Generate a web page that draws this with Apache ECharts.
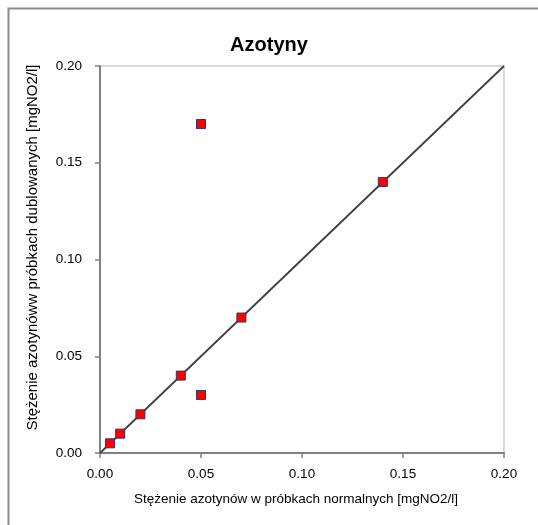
<!DOCTYPE html>
<html>
<head>
<meta charset="utf-8">
<script src="https://cdn.jsdelivr.net/npm/echarts@6/dist/echarts.min.js"></script>
<style>html,body{margin:0;padding:0;background:#fff}#c{width:538px;height:525px}</style>
</head>
<body>
<div id="c"></div>
<script>
const titleText = "Azotyny";
const xName = "Stężenie azotynów w próbkach normalnych [mgNO2/l]";
const yName = "Stężenie azotynóww próbkach dublowanych [mgNO2/l]";
const normalValues = [0.005, 0.01, 0.02, 0.04, 0.05, 0.05, 0.07, 0.14];
const duplicateValues = [0.005, 0.01, 0.02, 0.04, 0.03, 0.17, 0.07, 0.14];
const refLineX = [0, 0.2];
const refLineY = [0, 0.2];
const axisMin = 0, axisMax = 0.2, axisStep = 0.05;

const font = "'Liberation Sans', Arial, sans-serif";
const chart = echarts.init(document.getElementById('c'), null, {renderer: 'canvas'});
chart.setOption({
  animation: false,
  backgroundColor: '#fff',
  title: {
    text: titleText, left: 'center', top: 30,
    textStyle: {fontFamily: font, fontSize: 20, fontWeight: 'bold', color: '#000'}
  },
  graphic: [{
    type: 'rect', left: 6, top: 6, silent: true,
    shape: {x: 0, y: 0, width: 540, height: 530},
    style: {fill: 'none', stroke: '#8c8c8c', lineWidth: 2}
  }],
  grid: {left: 100, right: 34, top: 66, bottom: 72, show: true, borderColor: '#b4b4b4', borderWidth: 1, backgroundColor: 'transparent'},
  xAxis: {
    type: 'value', min: axisMin, max: axisMax, interval: axisStep,
    name: xName, nameLocation: 'middle', nameGap: 39,
    nameTextStyle: {fontFamily: font, fontSize: 13.5, color: '#000', padding: [0, 12, 0, 0]},
    axisLine: {show: true, lineStyle: {color: '#808080', width: 2}},
    axisTick: {show: true, inside: false, length: 5, lineStyle: {color: '#808080', width: 1.5}},
    axisLabel: {fontFamily: font, fontSize: 13.5, color: '#000', margin: 14, formatter: v => v.toFixed(2)},
    splitLine: {show: false}
  },
  yAxis: {
    type: 'value', min: axisMin, max: axisMax, interval: axisStep,
    name: yName, nameLocation: 'middle', nameGap: 60, nameRotate: 90,
    nameTextStyle: {fontFamily: font, fontSize: 15, color: '#000', padding: [0, 0, 0, 24]},
    axisLine: {show: true, lineStyle: {color: '#808080', width: 2}},
    axisTick: {show: true, inside: false, length: 5, lineStyle: {color: '#808080', width: 1.5}},
    axisLabel: {fontFamily: font, fontSize: 13.5, color: '#000', margin: 18, formatter: v => v.toFixed(2)},
    splitLine: {show: false}
  },
  series: [
    {
      type: 'line', data: refLineX.map((x, i) => [x, refLineY[i]]),
      showSymbol: false, symbol: 'none',
      lineStyle: {color: '#404040', width: 1.8}, z: 2
    },
    {
      type: 'scatter', data: normalValues.map((x, i) => [x, duplicateValues[i]]),
      symbol: 'rect', symbolSize: 9,
      itemStyle: {color: '#ff0000', borderColor: '#333366', borderWidth: 1, opacity: 1}, z: 3
    }
  ]
});
</script>
</body>
</html>
